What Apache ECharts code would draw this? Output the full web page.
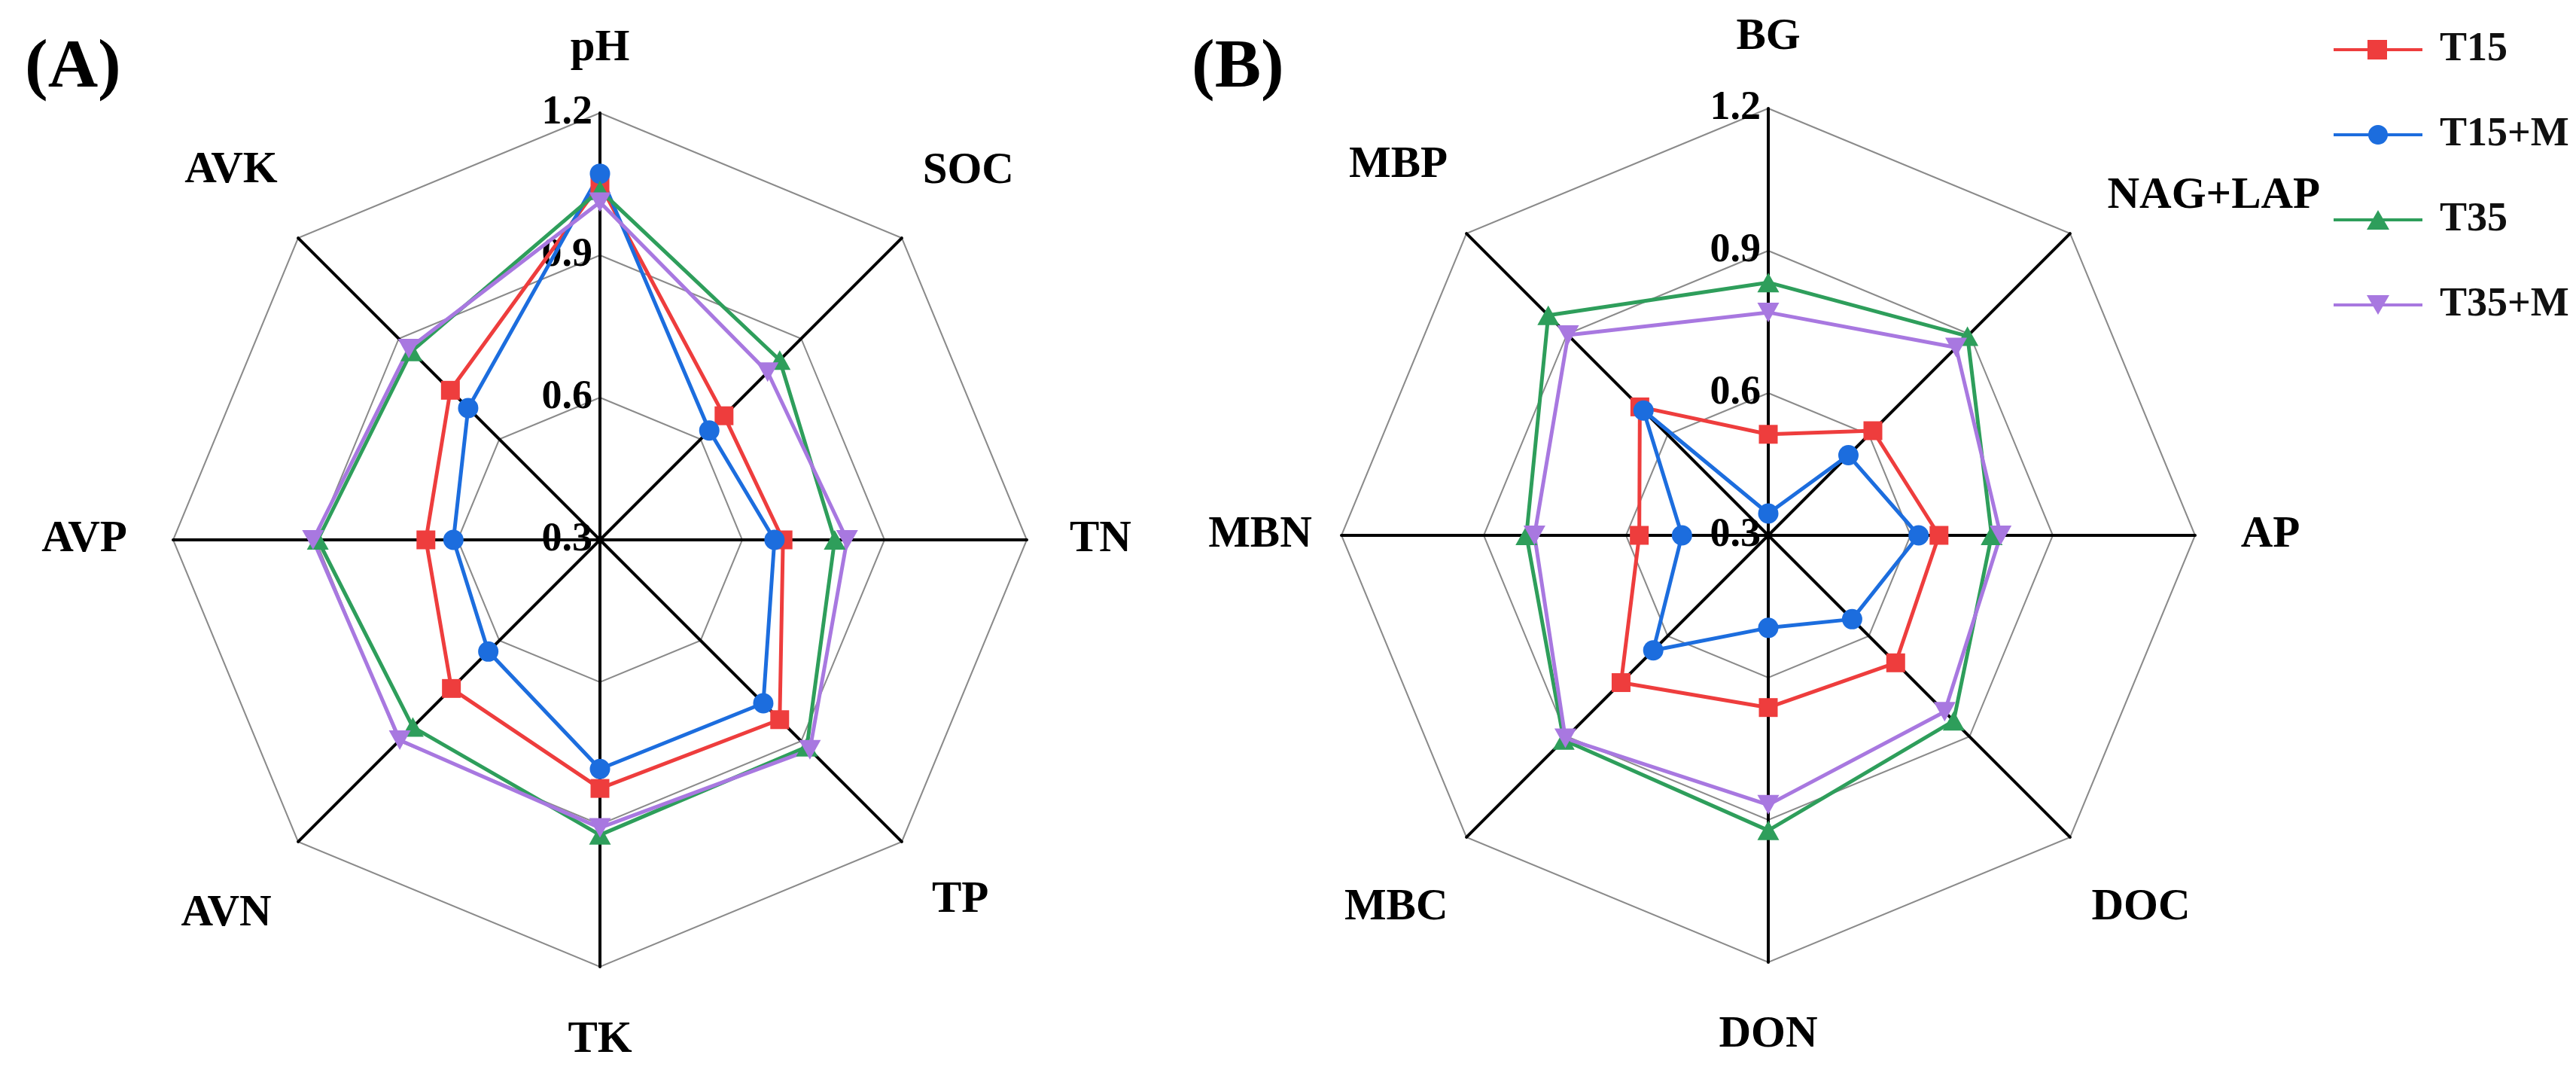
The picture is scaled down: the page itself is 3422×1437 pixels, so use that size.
<!DOCTYPE html>
<html>
<head>
<meta charset="utf-8">
<script src="https://cdn.jsdelivr.net/npm/echarts@6/dist/echarts.min.js"></script>
<style>
html,body{margin:0;padding:0;background:#ffffff;}
#chart{width:3422px;height:1437px;}
</style>
</head>
<body>
<div id="chart"></div>
<script>
// ---------------- DATA ----------------
const seriesNames = ['T15', 'T15+M', 'T35', 'T35+M'];

// Panel A (clockwise from top)
const catsA = ['pH', 'SOC', 'TN', 'TP', 'TK', 'AVN', 'AVP', 'AVK'];
const a_T15  = [1.050, 0.670, 0.686, 0.836, 0.824, 0.743, 0.667, 0.746];
const a_T15M = [1.072, 0.626, 0.668, 0.787, 0.783, 0.633, 0.609, 0.693];
const a_T35  = [1.037, 0.836, 0.795, 0.917, 0.922, 0.858, 0.895, 0.862];
const a_T35M = [1.012, 0.800, 0.821, 0.926, 0.907, 0.897, 0.905, 0.870];

// Panel B (clockwise from top)
const catsB = ['BG', 'NAG+LAP', 'AP', 'DOC', 'DON', 'MBC', 'MBN', 'MBP'];
const b_T15  = [0.513, 0.612, 0.660, 0.680, 0.663, 0.739, 0.572, 0.683];
const b_T15M = [0.346, 0.539, 0.617, 0.550, 0.495, 0.643, 0.482, 0.672];
const b_T35  = [0.833, 0.894, 0.771, 0.853, 0.922, 0.910, 0.810, 0.956];
const b_T35M = [0.770, 0.860, 0.790, 0.826, 0.868, 0.905, 0.793, 0.897];

// Radial axis tick labels
const tickLabels = [0.3, 0.6, 0.9, 1.2];

// ---------------- STYLE / LAYOUT ----------------
const FONT = 'Liberation Serif';
const colors = ['#EE3D3D', '#1C6DDE', '#2E9E5B', '#A878E0'];
const symbols = ['rect', 'circle', 'triangle', 'path://M0,0 L10,0 L5,9 Z'];
const symbolSizes = [25, 27, [29, 26], [29, 26]];
const legendIcons = [
  'path://M0,11 L45,11 L45,0 L71,0 L71,11 L118,11 L118,15 L71,15 L71,26 L45,26 L45,15 L0,15 Z',
  'path://M0,11 L118,11 L118,15 L0,15 Z M46,13 A13,13 0 1,1 72,13 A13,13 0 1,1 46,13 Z',
  'path://M0,11 L118,11 L118,15 L0,15 Z M59,0 L74,26 L44,26 Z',
  'path://M0,11 L118,11 L118,15 L0,15 Z M44,0 L74,0 L59,26 Z'
];
const nameGapsA = [85, 125, 98, 110, 98, 135, 118, 126];
const nameGapsB = [94, 70, 100, 133, 97, 132, 108, 128];
const nameAlignB = [null, 'left', null, null, null, null, null, null];

// ECharts places radar indicators counter-clockwise; reorder to draw clockwise.
const ccwOrder = [0, 7, 6, 5, 4, 3, 2, 1];
const reorder = arr => ccwOrder.map(i => arr[i]);

function makeIndicators(cats, gaps, aligns) {
  return reorder(cats.map((name, i) => {
    const ind = {
      name: name,
      min: tickLabels[0],
      max: tickLabels[tickLabels.length - 1],
      nameGap: gaps[i]
    };
    if (aligns && aligns[i]) {
      ind.nameTextStyle = { align: aligns[i] };
    }
    if (i === 0) {
      ind.axisLabel = { show: true };
    }
    return ind;
  }));
}

function makeRadar(center, cats, gaps, aligns) {
  return {
    center: center,
    radius: 567,
    startAngle: 90,
    splitNumber: tickLabels.length - 1,
    shape: 'polygon',
    indicator: makeIndicators(cats, gaps, aligns),
    axisName: {
      color: '#000',
      fontFamily: FONT,
      fontWeight: 'bold',
      fontSize: 59,
      align: 'center',
      verticalAlign: 'middle'
    },
    splitLine: { lineStyle: { color: '#8a8a8a', width: 2 } },
    splitArea: { show: false },
    axisLine: { lineStyle: { color: '#000', width: 4 } },
    axisTick: { show: false },
    axisLabel: {
      show: false,
      color: '#000',
      fontFamily: FONT,
      fontWeight: 'bold',
      fontSize: 54,
      margin: 10,
      formatter: v => Number(v).toFixed(1)
    }
  };
}

function makeSeries(radarIndex, arrays) {
  return {
    type: 'radar',
    radarIndex: radarIndex,
    silent: true,
    data: arrays.map((arr, i) => ({
      name: seriesNames[i],
      value: reorder(arr),
      symbol: symbols[i],
      symbolSize: symbolSizes[i],
      lineStyle: { color: colors[i], width: 5 },
      itemStyle: { color: colors[i] }
    }))
  };
}

const chart = echarts.init(document.getElementById('chart'), null, { renderer: 'canvas' });
chart.setOption({
  backgroundColor: '#ffffff',
  animation: false,
  title: [
    { text: '(A)', left: 28, top: 40, textStyle: { fontFamily: FONT, fontWeight: 'bold', fontSize: 92, lineHeight: 92, color: '#000' } },
    { text: '(B)', left: 1578, top: 40, textStyle: { fontFamily: FONT, fontWeight: 'bold', fontSize: 92, lineHeight: 92, color: '#000' } }
  ],
  legend: {
    orient: 'vertical',
    left: 3095,
    top: 34,
    itemWidth: 118,
    itemHeight: 26,
    itemGap: 59,
    data: seriesNames.map((n, i) => ({ name: n, icon: legendIcons[i] })),
    textStyle: { fontFamily: FONT, fontWeight: 'bold', fontSize: 54, color: '#111', padding: [0, 0, 0, 18] }
  },
  radar: [
    makeRadar([797, 717], catsA, nameGapsA, null),
    makeRadar([2349, 711], catsB, nameGapsB, nameAlignB)
  ],
  series: [
    makeSeries(0, [a_T15, a_T15M, a_T35, a_T35M]),
    makeSeries(1, [b_T15, b_T15M, b_T35, b_T35M])
  ]
});
</script>
</body>
</html>
